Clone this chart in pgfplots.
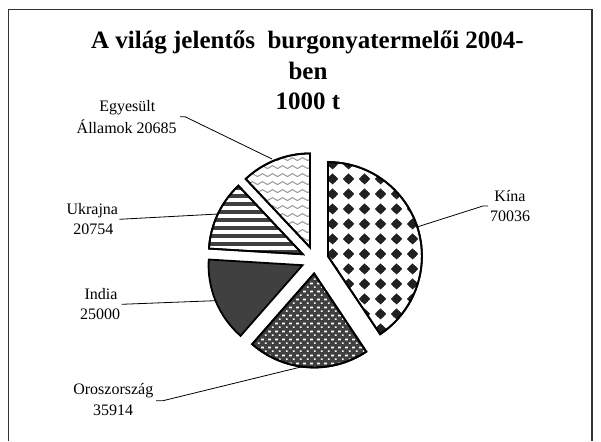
\documentclass[border=0pt]{standalone}
\usepackage{pgfplots}
\pgfplotsset{compat=1.18}
\usepackage{fontspec}
\setmainfont{Liberation Serif}
\usetikzlibrary{patterns.meta}

% data (1000 t)
\def\vK{70036}% Kina
\def\vR{35914}% Oroszorszag
\def\vI{25000}% India
\def\vU{20754}% Ukrajna
\def\vA{20685}% Egyesult Allamok

\edef\tot{\fpeval{\vK+\vR+\vI+\vU+\vA}}
\edef\aO{90}
\edef\aK{\fpeval{\aO-360*\vK/\tot}}
\edef\aR{\fpeval{\aK-360*\vR/\tot}}
\edef\aI{\fpeval{\aR-360*\vI/\tot}}
\edef\aU{\fpeval{\aI-360*\vU/\tot}}
\edef\aA{\fpeval{\aU-360*\vA/\tot}}
\edef\mK{\fpeval{(\aO+\aK)/2}}
\edef\mR{\fpeval{(\aK+\aR)/2}}
\edef\mI{\fpeval{(\aR+\aI)/2}}
\edef\mU{\fpeval{(\aI+\aU)/2}}
\edef\mA{\fpeval{(\aU+\aA)/2}}

\tikzdeclarepattern{
  name=kinapat, type=colored,
  bottom left={(0pt,0pt)}, top right={(15.5pt,15pt)},
  tile size={(15.5pt,15pt)},
  code={
    \fill[black!87] (7.75pt,1.6pt) -- (13.6pt,7.5pt) -- (7.75pt,13.4pt) -- (1.9pt,7.5pt) -- cycle;
    \fill[black!87] (7.75pt,7.5pt) circle[radius=4.3pt];
  }
}
\tikzdeclarepattern{
  name=dotpat, type=colored,
  bottom left={(0pt,0pt)}, top right={(6.6pt,8pt)},
  tile size={(6.6pt,8pt)},
  code={
    \fill[white] (1pt,1.2pt) rectangle (2.8pt,3pt);
    \fill[white] (4.3pt,5.2pt) rectangle (6.1pt,7pt);
  }
}
\tikzdeclarepattern{
  name=stripepat, type=colored,
  bottom left={(0pt,0pt)}, top right={(300pt,7.8pt)},
  tile size={(300pt,7.8pt)},
  code={
    \fill[black!75] (0pt,0pt) rectangle (300pt,3.9pt);
  }
}
\tikzdeclarepattern{
  name=wavepat, type=colored,
  bottom left={(0pt,-0.5pt)}, top right={(200pt,7.8pt)},
  tile size={(200pt,8.3pt)},
  code={
    \foreach \i in {0,...,19}
      \draw[black!42, line width=1pt] ({\i*10pt},3.7pt) sin ++(2.5pt,1.6pt) cos ++(2.5pt,-1.6pt) sin ++(2.5pt,-1.6pt) cos ++(2.5pt,1.6pt);
  }
}
\newcommand\slice[5]{%
  \path[preaction={fill=#5}, pattern=#4, draw=black, line width=1.8pt, line join=miter]
    ([shift={(#3:13.5pt)}]axis cs:315,181) -- ++(#1:94pt)
    arc[start angle=#1, end angle=#2, radius=94pt] -- cycle;
  \path[draw=black, line width=1.8pt, line join=miter]
    ([shift={(#3:13.5pt)}]axis cs:315,181) -- ++(#1:94pt)
    arc[start angle=#1, end angle=#2, radius=94pt] -- cycle;}

\begin{document}%
\begin{tikzpicture}
\useasboundingbox (0,0) rectangle (601pt,441pt);
\begin{axis}[
  at={(0,0)}, anchor=south west,
  x=1pt, y=1pt, xmin=0, xmax=601, ymin=0, ymax=441,
  hide axis, clip=false,
]
% frame
\draw[black!80, line width=1.5pt] (axis cs:8.5,0) -- (axis cs:8.5,431.5) -- (axis cs:592,431.5) -- (axis cs:592,0);
% title
\node[anchor=base, font=\fontsize{25}{31}\selectfont\bfseries] at (axis cs:307.5,392.7) {A világ jelentős\ \ burgonyatermelői 2004-};
\node[anchor=base, font=\fontsize{25}{31}\selectfont\bfseries] at (axis cs:308,361) {ben};
\node[anchor=base, font=\fontsize{25}{31}\selectfont\bfseries] at (axis cs:308,331) {1000 t};
% slices
\slice{\aO}{\aK}{\mK}{kinapat}{white}
\slice{\aK}{\aR}{\mR}{dotpat}{black!75}
\path[fill=black!75, draw=black, line width=1.8pt, line join=miter]
    ([shift={(\mI:13.5pt)}]axis cs:315,181) -- ++(\aR:94pt)
    arc[start angle=\aR, end angle=\aI, radius=94pt] -- cycle;
\slice{\aI}{\aU}{\mU}{stripepat}{white}
\slice{\aU}{\aA}{\mA}{wavepat}{white}
% leader lines
\draw[line width=0.8pt] (axis cs:488,235) -- (axis cs:483,235) -- (axis cs:417,214);
\draw[line width=0.8pt] (axis cs:180,324.3) -- (axis cs:185,324.3) -- (axis cs:272,282);
\draw[line width=0.8pt] (axis cs:119.3,221.7) -- (axis cs:218.3,227);
\draw[line width=0.8pt] (axis cs:121.7,136.7) -- (axis cs:215,140.3);
\draw[line width=0.8pt] (axis cs:156,40.3) -- (axis cs:163,40.3) -- (axis cs:305,75);
% labels
\tikzset{lab/.style={anchor=base, font=\fontsize{16}{20}\selectfont, inner sep=0pt}}
\node[lab] at (axis cs:510,239.3) {Kína};
\node[lab] at (axis cs:510,219.3) {70036};
\node[lab] at (axis cs:127.3,329.3) {Egyesült};
\node[lab] at (axis cs:126.7,307.7) {Államok 20685};
\node[lab] at (axis cs:92.3,226) {Ukrajna};
\node[lab] at (axis cs:93.3,206.7) {20754};
\node[lab] at (axis cs:101,141.7) {India};
\node[lab] at (axis cs:100,121) {25000};
\node[lab] at (axis cs:113.3,46) {Oroszország};
\node[lab] at (axis cs:113,26) {35914};
\end{axis}
\end{tikzpicture}%
\end{document}
